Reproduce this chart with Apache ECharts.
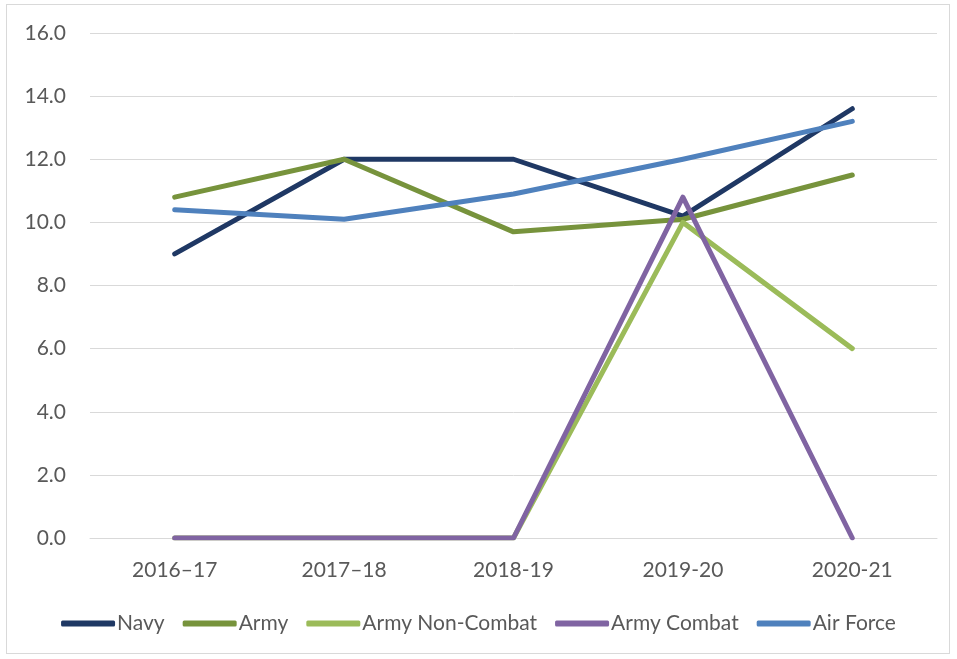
<!DOCTYPE html>
<html>
<head>
<meta charset="utf-8">
<script src="https://cdn.jsdelivr.net/npm/echarts@6/dist/echarts.min.js"></script>
<style>
  html, body { margin: 0; padding: 0; background: #fff; }
  #frame { position: absolute; left: 6px; top: 4px; width: 944px; height: 650px; border: 1px solid #d9d9d9; box-sizing: border-box; }
  #chart { position: absolute; left: 0; top: 0; width: 957px; height: 659px; }
</style>
</head>
<body>
<div id="frame"></div>
<div id="chart"></div>
<script>
// years on the x axis
const categories = ['2016–17', '2017–18', '2018-19', '2019-20', '2020-21']
const navy = [9.0, 12.0, 12.0, 10.2, 13.6]
const army = [10.8, 12.0, 9.7, 10.1, 11.5]
const armyNonCombat = [0, 0, 0, 10.0, 6.0]
const armyCombat = [0, 0, 0, 10.8, 0]
const airForce = [10.4, 10.1, 10.9, 12.0, 13.2]

const font = 'Lato, "Liberation Sans", sans-serif'

function lineSeries (name, data, color) {
  return {
    name: name,
    type: 'line',
    data: data,
    symbol: 'none',
    itemStyle: { color: color },
    lineStyle: { color: color, width: 5, cap: 'round', join: 'round' }
  }
}

const chart = echarts.init(document.getElementById('chart'))
chart.setOption({
  animation: false,
  grid: { left: 90, right: 20, top: 33, bottom: 121, containLabel: false },
  legend: {
    top: 608,
    left: 'center',
    icon: 'roundRect',
    itemWidth: 54,
    itemHeight: 6,
    itemGap: 18,
    textStyle: { color: '#595959', fontSize: 21, fontFamily: font, padding: [0, 0, 0, -3] }
  },
  xAxis: {
    type: 'category',
    boundaryGap: true,
    data: categories,
    axisLine: { lineStyle: { color: '#d9d9d9', width: 1 } },
    axisTick: { show: false },
    axisLabel: { color: '#595959', fontSize: 21, fontFamily: font, margin: 22 }
  },
  yAxis: {
    type: 'value',
    min: 0,
    max: 16,
    interval: 2,
    axisLine: { show: false },
    axisTick: { show: false },
    splitLine: { lineStyle: { color: '#d9d9d9', width: 1 } },
    axisLabel: {
      color: '#595959', fontSize: 21, fontFamily: font, margin: 24,
      formatter: (v) => v.toFixed(1)
    }
  },
  series: [
    lineSeries('Navy', navy, '#1f3864'),
    lineSeries('Army', army, '#77933c'),
    lineSeries('Army Non-Combat', armyNonCombat, '#9bbb59'),
    lineSeries('Army Combat', armyCombat, '#8064a2'),
    lineSeries('Air Force', airForce, '#4f81bd')
  ]
})
</script>
</body>
</html>
